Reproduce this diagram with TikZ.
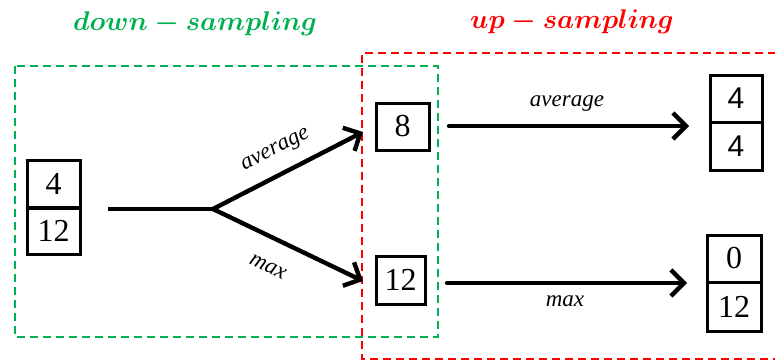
\RequirePackage{fix-cm}
\documentclass[tikz,border=0pt]{standalone}
\usepackage{fontspec}
\setmainfont{Liberation Serif}
\newfontfamily\arialfont{Liberation Sans}
\usetikzlibrary{arrows.meta}
\definecolor{dsgreen}{RGB}{0,176,80}
\definecolor{usred}{RGB}{255,0,0}
\tikzset{
  cell/.style={draw, line width=3pt, inner sep=0pt, font=\fontsize{32}{36}\selectfont},
  flow/.style={line width=4.4pt, -{Straight Barb[length=13pt,width=26pt]}, line cap=round, line join=round},
  plainline/.style={line width=4.4pt},
  lbl/.style={font=\fontsize{23}{26}\selectfont\itshape, inner sep=0pt},
  ttl/.style={font=\fontsize{27}{30}\selectfont\boldmath, inner sep=0pt},
  gbox/.style={draw=dsgreen, line width=2.2pt, dash pattern=on 8pt off 5pt},
  rbox/.style={draw=usred, line width=2.2pt, dash pattern=on 8pt off 5pt},
}
\begin{document}
\begin{tikzpicture}[x=1pt,y=-1pt]
\useasboundingbox (0,0) rectangle (775,361);
% frames
\draw[gbox] (15,66) rectangle (438,337);
\draw[rbox] (776,53) -- (362,53) -- (362,359) -- (776,359);
% titles
\node[ttl, text=dsgreen] (tdown) at (195,24) {$down - sampling$};
\node[ttl, text=usred] (tup) at (572,22) {$up - sampling$};
% left input
\node[cell, minimum width=53pt, minimum height=48pt] (a1) at (53.5,184) {4};
\node[cell, minimum width=53pt, minimum height=47pt] (a2) at (53.5,231) {12};
% middle
\node[cell, minimum width=53pt, minimum height=47pt] (b8) at (402.5,126.5) {8};
\node[cell, minimum width=49pt, minimum height=48pt] (b12) at (400.5,280) {12};
% right top (sans)
\node[cell, font=\fontsize{30}{34}\selectfont\arialfont, minimum width=52pt, minimum height=47pt] (r1) at (736,98.5) {4};
\node[cell, font=\fontsize{30}{34}\selectfont\arialfont, minimum width=52pt, minimum height=48pt] (r2) at (736,146) {4};
% right bottom
\node[cell, minimum width=54pt, minimum height=47pt] (q1) at (734,258.5) {0};
\node[cell, minimum width=54pt, minimum height=49pt] (q2) at (734,306.5) {12};
% connectors
\coordinate (s) at (108,209);
\coordinate (br) at (213,209);
\coordinate (t8) at (363,132);
\coordinate (t12) at (363,281);
\coordinate (s8) at (449,126);
\coordinate (tr) at (689,126);
\coordinate (s12) at (447,283);
\coordinate (tq) at (687,283);
\draw[plainline] (s) -- (br);
\draw[flow] (br) -- (t8);
\draw[flow] (br) -- (t12);
\draw[flow] (s8) -- (tr);
\draw[flow] (s12) -- (tq);
% labels
\node[lbl, rotate=27] (la) at (276,151) {average};
\node[lbl, rotate=-26] (lm) at (268,267) {max};
\node[lbl] (la2) at (567,104) {average};
\node[lbl] (lm2) at (565,301) {max};
\end{tikzpicture}
\end{document}
